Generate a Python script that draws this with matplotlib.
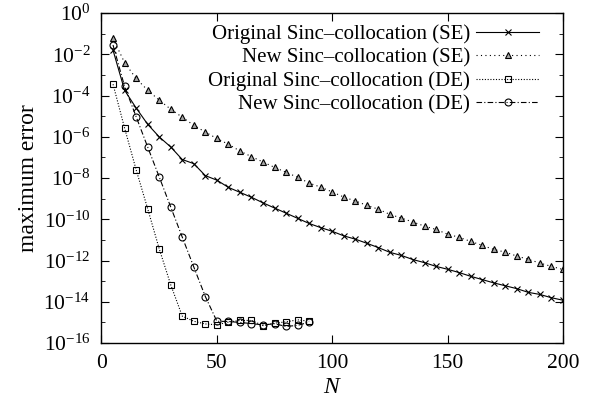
import numpy as np
import matplotlib
matplotlib.use("Agg")
import matplotlib.pyplot as plt
from matplotlib.ticker import LogLocator, NullFormatter

plt.rcParams['font.family'] = ['Liberation Serif', 'DejaVu Serif']
plt.rcParams['mathtext.fontset'] = 'custom'
plt.rcParams['mathtext.rm'] = 'Liberation Serif'
plt.rcParams['mathtext.it'] = 'Liberation Serif:italic'

# SE runs: N = 5, 10, ..., 200 ; DE runs: N = 5, 10, ..., 90
n_se = np.arange(5, 201, 5)
n_de = np.arange(5, 91, 5)

# log10 of maximum error
log_orig_se = [-1.8, -3.74, -4.6, -5.39, -6.0, -6.49, -7.1, -7.3, -7.88, -8.1,
               -8.45, -8.69, -8.93, -9.2, -9.45, -9.7, -9.95, -10.2, -10.4, -10.58,
               -10.8, -10.96, -11.16, -11.37, -11.6, -11.75, -11.95, -12.1, -12.28, -12.42,
               -12.58, -12.76, -12.92, -13.08, -13.22, -13.36, -13.54, -13.64, -13.8, -13.92]
log_new_se = [-1.23, -2.4, -3.17, -3.74, -4.22, -4.66, -5.05, -5.44, -5.77, -6.08,
              -6.36, -6.69, -6.96, -7.22, -7.48, -7.72, -7.96, -8.24, -8.44, -8.67,
              -8.92, -9.11, -9.32, -9.51, -9.76, -9.94, -10.13, -10.33, -10.49, -10.72,
              -10.87, -11.07, -11.26, -11.46, -11.59, -11.78, -11.94, -12.12, -12.28, -12.43]
log_orig_de = [-3.45, -5.57, -7.59, -9.48, -11.42, -13.17, -14.69, -14.94, -15.07,
               -15.11, -14.98, -14.9, -14.9, -15.15, -15.03, -14.97, -14.87, -14.94]
log_new_de = [-1.55, -3.55, -5.02, -6.49, -7.94, -9.4, -10.86, -12.31, -13.74,
              -14.94, -14.95, -15.0, -15.05, -15.12, -15.06, -15.19, -15.14, -14.98]

labels = ["Original Sinc\u2013collocation (SE)", "New Sinc\u2013collocation (SE)",
          "Original Sinc\u2013collocation (DE)", "New Sinc\u2013collocation (DE)"]

fig = plt.figure(figsize=(5.97, 4.08), dpi=100)
ax = fig.add_axes([0.170, 0.159, 0.773, 0.809])

lw = 0.8
ax.semilogy(n_se, 10.0 ** np.array(log_orig_se), color='black', lw=lw, ls='-',
            marker='x', ms=5, mew=0.8, label=labels[0])
ax.semilogy(n_se, 10.0 ** np.array(log_new_se), color='black', lw=lw, ls=(0, (1, 3)),
            marker='^', ms=4.5, mew=0.8, mfc='0.65', mec='black', label=labels[1])
ax.semilogy(n_de, 10.0 ** np.array(log_orig_de), color='black', lw=lw, ls=(0, (1, 1.5)),
            marker='s', ms=5, mew=0.8, mfc='none', mec='black', label=labels[2])
ax.semilogy(n_de, 10.0 ** np.array(log_new_de), color='black', lw=lw, ls=(0, (5, 2, 1, 2)),
            marker='o', ms=5, mew=0.8, mfc='none', mec='black', label=labels[3])

ax.set_xlim(0, 200)
ax.set_ylim(1e-16, 1)
ax.set_xticks([0, 50, 100, 150, 200])
ax.yaxis.set_major_locator(LogLocator(base=100.0, numticks=20))
ax.yaxis.set_minor_locator(LogLocator(base=10.0, subs=[1.0], numticks=40))
ax.yaxis.set_minor_formatter(NullFormatter())

ax.tick_params(which='both', direction='in', top=True, right=True, labelsize=15.5)
ax.tick_params(axis='x', which='major', length=6, pad=8)
ax.tick_params(axis='y', which='major', length=6, pad=8)
ax.tick_params(axis='y', which='minor', length=3)
for sp in ax.spines.values():
    sp.set_linewidth(1.0)

ax.set_xlabel("$N$", fontsize=17, labelpad=3)
ax.set_ylabel("maximum error", fontsize=17, labelpad=3)

ax.legend(loc='upper right', bbox_to_anchor=(0.948, 0.965), frameon=False,
          markerfirst=False, fontsize=15, handlelength=3.0, handletextpad=0.3,
          labelspacing=0.18, borderaxespad=0, borderpad=0)

fig.savefig("out.png", dpi=100)
